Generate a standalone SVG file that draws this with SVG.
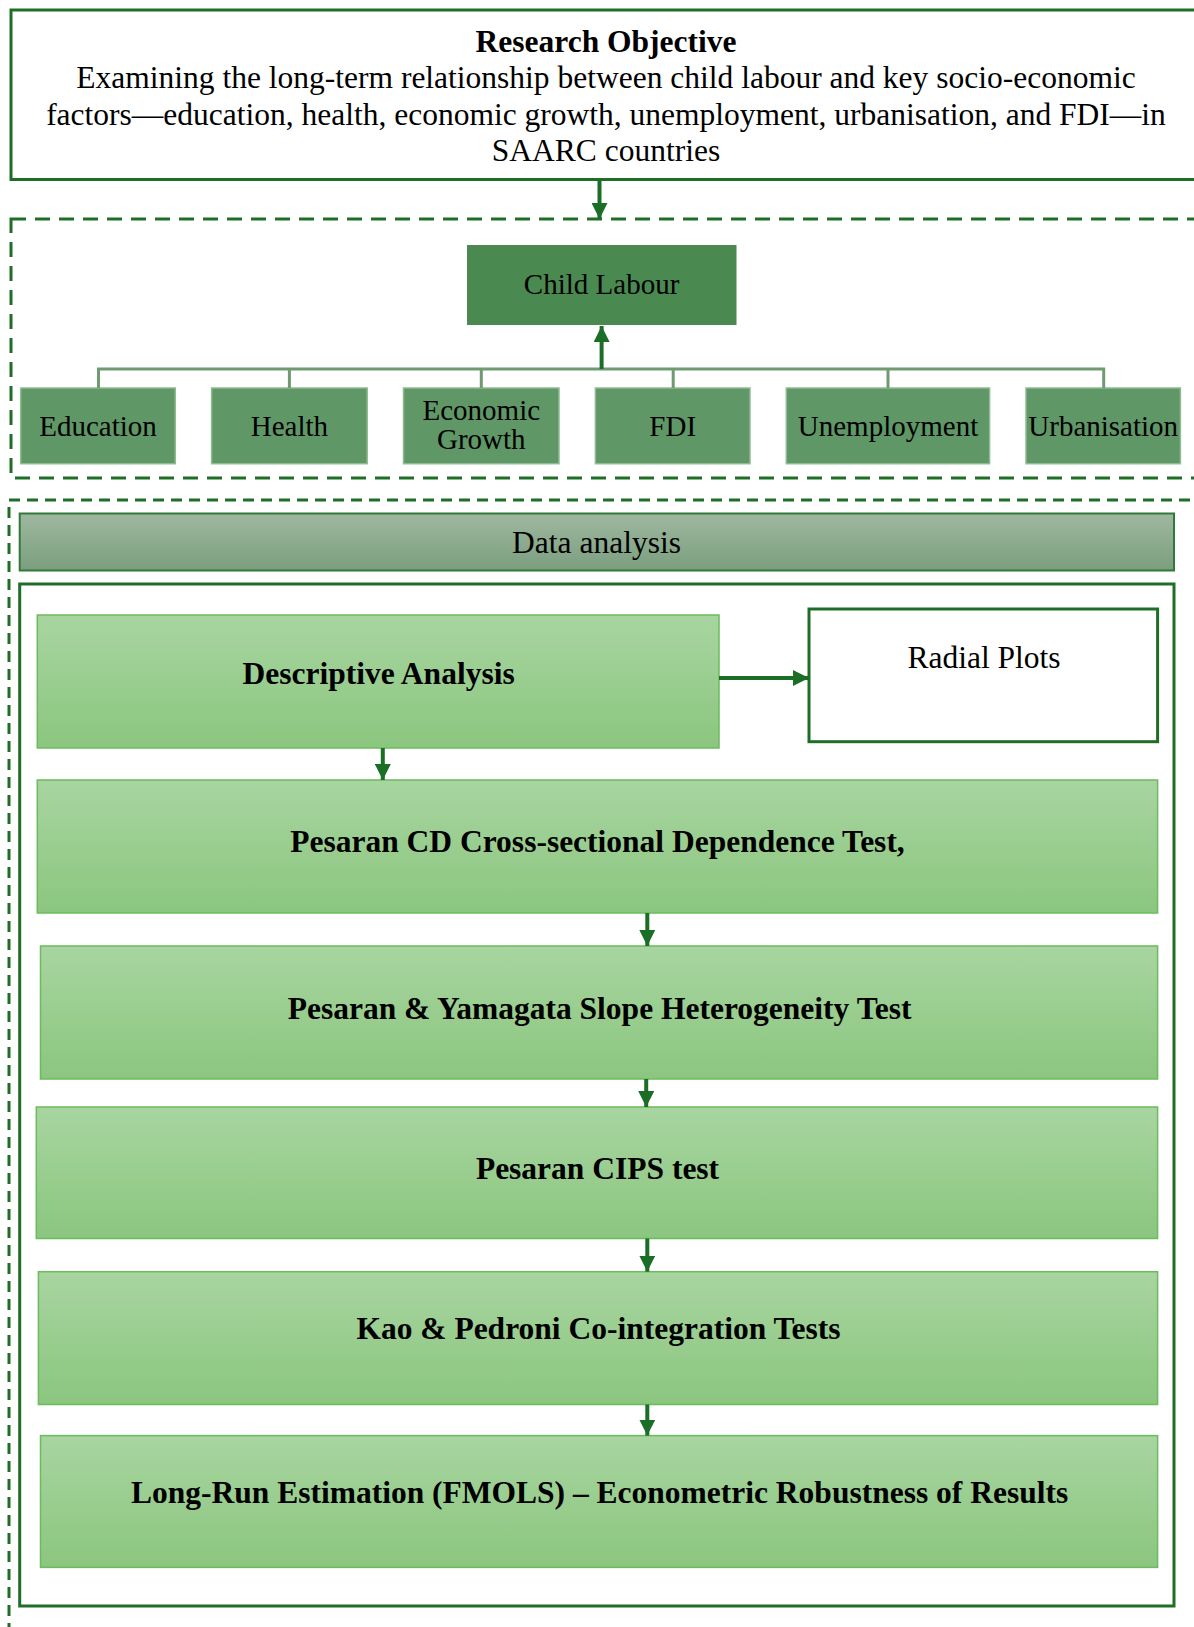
<svg xmlns="http://www.w3.org/2000/svg" width="1194" height="1627" viewBox="0 0 1194 1627">
<defs>
<linearGradient id="gGreen" x1="0" y1="0" x2="0" y2="1"><stop offset="0" stop-color="#a8d5a0"/><stop offset="1" stop-color="#8bc67f"/></linearGradient>
<linearGradient id="gBar" x1="0" y1="0" x2="0" y2="1"><stop offset="0" stop-color="#9fb8a0"/><stop offset="1" stop-color="#7b9e7e"/></linearGradient>
<marker id="ah" viewBox="0 0 10 10" refX="10" refY="5" markerWidth="4" markerHeight="4" orient="auto" markerUnits="strokeWidth"><path d="M0,0 L10,5 L0,10 z" fill="#1b6e26"/></marker>
<style>
text{font-family:"Liberation Serif","Times New Roman",serif;fill:#000;text-anchor:middle}
.big{font-size:31.5px}
.sm{font-size:29px}
.b{font-weight:bold}
.dash1{fill:none;stroke:#1e6e28;stroke-width:3;stroke-dasharray:15 9}
.dash2{fill:none;stroke:#1e6e28;stroke-width:3;stroke-dasharray:11 7}
.var{fill:#5f9767;stroke:#8fbb93;stroke-width:1.5}
.step{fill:url(#gGreen);stroke:#6cbb5e;stroke-width:1.5}
.arr{stroke:#1b6e26;stroke-width:4;fill:none;marker-end:url(#ah)}
.tree{stroke:#6f9a72;stroke-width:3;fill:none}
</style>
</defs>
<rect width="1194" height="1627" fill="#fff"/>
<g id="frames">
<rect class="dash1" x="11" y="219" width="1200" height="259"/>
<rect class="dash2" x="9" y="500" width="1200" height="1140"/>
</g>
<g id="objective">
<rect x="11" y="10" width="1195" height="169.5" fill="#fff" stroke="#1e6e28" stroke-width="3"/>
<text class="big b" x="606" y="52">Research Objective</text>
<text class="big" x="606" y="88">Examining the long-term relationship between child labour and key socio-economic</text>
<text class="big" x="606" y="124.5">factors—education, health, economic growth, unemployment, urbanisation, and FDI—in</text>
<text class="big" x="606" y="161">SAARC countries</text>
</g>
<g id="child-labour">
<rect x="467" y="245" width="269.5" height="80" fill="#4a8a51"/>
<text class="sm" x="601.6" y="293.5">Child Labour</text>
</g>
<g id="education"><rect class="var" x="20.7" y="388" width="154.6" height="75.7"/><text class="sm" x="98" y="435.5">Education</text></g>
<g id="health"><rect class="var" x="211.6" y="388" width="155.6" height="75.7"/><text class="sm" x="289.4" y="435.5">Health</text></g>
<g id="economic-growth"><rect class="var" x="403.5" y="388" width="155.5" height="75.7"/><text class="sm" x="481.3" y="420.4">Economic</text><text class="sm" x="481.3" y="449.4">Growth</text></g>
<g id="fdi"><rect class="var" x="595.4" y="388" width="154.6" height="75.7"/><text class="sm" x="672.7" y="435.5">FDI</text></g>
<g id="unemployment"><rect class="var" x="786.3" y="388" width="203.3" height="75.7"/><text class="sm" x="888" y="435.5">Unemployment</text></g>
<g id="urbanisation"><rect class="var" x="1026" y="388" width="154.4" height="75.7"/><text class="sm" x="1103.2" y="435.5">Urbanisation</text></g>
<g id="data-analysis">
<rect x="19.7" y="513.5" width="1154.3" height="57" fill="url(#gBar)" stroke="#2f7a38" stroke-width="2"/>
<text class="big" x="596.5" y="553">Data analysis</text>
<rect x="19.7" y="584" width="1154.3" height="1022" fill="none" stroke="#1e6e28" stroke-width="3"/>
</g>
<g id="descriptive"><rect class="step" x="37.3" y="615" width="681.7" height="133"/><text class="big b" x="378.6" y="683.5">Descriptive Analysis</text></g>
<g id="radial"><rect x="809" y="609" width="348.6" height="132.7" fill="#fff" stroke="#1e6e28" stroke-width="3"/><text class="big" x="984" y="668">Radial Plots</text></g>
<g id="pesaran-cd"><rect class="step" x="37.3" y="780" width="1120.3" height="133"/><text class="big b" x="597.5" y="851.5">Pesaran CD Cross-sectional Dependence Test,</text></g>
<g id="slope"><rect class="step" x="40.5" y="946" width="1117.1" height="133"/><text class="big b" x="599.6" y="1018.5">Pesaran &amp; Yamagata Slope Heterogeneity Test</text></g>
<g id="cips"><rect class="step" x="36.3" y="1107" width="1121.3" height="131.5"/><text class="big b" x="597.5" y="1178.5">Pesaran CIPS test</text></g>
<g id="cointegration"><rect class="step" x="38.4" y="1271.7" width="1119.2" height="132.8"/><text class="big b" x="598.5" y="1339.3">Kao &amp; Pedroni Co-integration Tests</text></g>
<g id="fmols"><rect class="step" x="40.5" y="1435.6" width="1117.1" height="131.8"/><text class="big b" x="599.6" y="1503.2">Long-Run Estimation (FMOLS) – Econometric Robustness of Results</text></g>
<g id="connectors">
<path class="tree" d="M98.5,388 V369 H1103.7 V388 M289.4,369 V388 M481.3,369 V388 M673.2,369 V388 M888,369 V388"/>
<line class="arr" x1="599.5" y1="180" x2="599.5" y2="219"/>
<line class="arr" x1="601.6" y1="369" x2="601.6" y2="326"/>
<line class="arr" x1="719" y1="678" x2="809" y2="678"/>
<line class="arr" x1="382.8" y1="748" x2="382.8" y2="780"/>
<line class="arr" x1="647.3" y1="913" x2="647.3" y2="946"/>
<line class="arr" x1="646.2" y1="1079" x2="646.2" y2="1107"/>
<line class="arr" x1="647.3" y1="1238.5" x2="647.3" y2="1271.7"/>
<line class="arr" x1="647.3" y1="1404.5" x2="647.3" y2="1435.6"/>
</g>
</svg>
